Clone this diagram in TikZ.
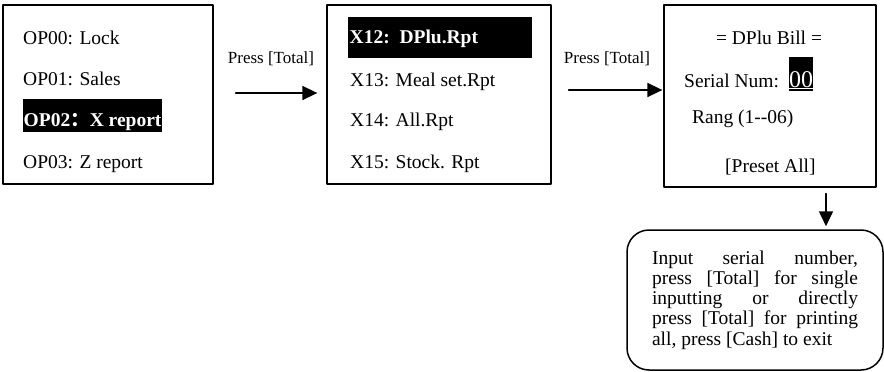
\documentclass[tikz,border=0pt]{standalone}
\usepackage{fontspec}
\setmainfont{Liberation Serif}
\newfontfamily\cjkfont{Noto Sans CJK SC}
\usetikzlibrary{arrows.meta}

\begin{document}
\begin{tikzpicture}[
      % Unita' in pixel della schermata di riferimento
      x=1pt,
      y=-1pt,
      line join=round,
      line cap=round
  ]

  % Parametri tipografici
  \def\corpo{\fontsize{19.5}{20.3}\selectfont}
  \def\corpotasto{\fontsize{17}{20}\selectfont}

  \tikzset{
      schermo/.style={draw=black, line width=1.3pt, inner sep=0pt},
      riga/.style={anchor=base west, inner sep=0pt, font=\corpo},
      evidenza/.style={anchor=base west, fill=black, text=white, inner xsep=0.5pt, inner ysep=0pt, font=\corpo\bfseries},
      tasto/.style={anchor=base, inner sep=0pt, font=\corpotasto},
      nota/.style={draw=black, line width=1.5pt, rounded corners=22pt, minimum width=256pt, minimum height=140pt,
                   text width=206pt, align=justify, inner sep=0pt, font=\corpo},
      freccia/.style={draw=black, line width=1.6pt, -{Triangle[length=15pt, width=14pt]}}
  }

  \useasboundingbox (0,0) rectangle (884,372);

  % 1. Schermate
  \node[schermo, minimum width=210pt, minimum height=179pt] (menuop) at (108,94.5) {};
  \node[schermo, minimum width=224pt, minimum height=179pt] (menux)  at (439,94.5) {};
  \node[schermo, minimum width=212pt, minimum height=182pt] (bill)   at (770,96) {};

  % 2. Voci del menu operativo
  \node[riga] (op00) at (23,44) {OP00: Lock};
  \node[riga] (op01) at (23,85) {OP01: Sales};
  \node[evidenza, text height=27pt, text depth=6pt] (op02) at (23,126) {OP02{\cjkfont ：}X report};
  \node[riga] (op03) at (23,168) {OP03: Z report};

  % 3. Voci del menu X
  \node[evidenza, inner xsep=1.5pt, text width=181pt, align=left, text height=26pt, text depth=15pt] (x12) at (348,43) {X12: DPlu.Rpt};
  \node[riga] (x13) at (350,86) {X13: Meal set.Rpt};
  \node[riga] (x14) at (350,126) {X14: All.Rpt};
  \node[riga] (x15) at (350,168) {X15: Stock. Rpt};

  % 4. Schermata DPlu
  \node[riga, anchor=base] (titolo) at (769,44) {= DPlu Bill =};
  \node[riga] (seriale) at (684,87) {Serial Num:};
  \node[evidenza, font=\fontsize{24}{26}\selectfont, inner xsep=0pt, text height=30pt, text depth=4pt] (numero) at (789,87) {\underline{00}};
  \node[riga] (rang) at (692,123) {Rang (1-{}-06)};
  \node[riga] (preset) at (725,172) {[Preset All]};

  % 5. Nota finale
  \node[nota] (nota) at (755,300) {Input serial number,\linebreak press [Total] for single\linebreak inputting or directly\linebreak press [Total] for printing\linebreak all, press [Cash] to exit};

  % 6. Frecce e tasti
  \draw[freccia, shorten <=22pt, shorten >=9pt] ([yshift=1.5pt]menuop.east) -- ([yshift=1.5pt]menuop.east -| menux.west);
  \node[tasto] (tasto1) at (271,63) {Press [Total]};

  \draw[freccia, shorten <=17pt, shorten >=1pt] ([yshift=4.5pt]menux.east) -- ([yshift=4.5pt]menux.east -| bill.west);
  \node[tasto] (tasto2) at (607,63) {Press [Total]};

  \draw[freccia, shorten <=6pt, shorten >=3pt] ([xshift=56pt]bill.south) -- ([xshift=56pt]bill.south |- nota.north);

\end{tikzpicture}
\end{document}
